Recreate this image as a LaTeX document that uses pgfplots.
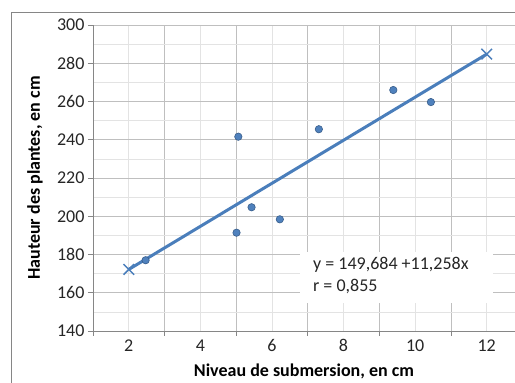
\documentclass[border=0pt]{standalone}
\usepackage{pgfplots}
\pgfplotsset{compat=1.18}
\usepackage{fontspec}
\setmainfont{Carlito}
\definecolor{excelblue}{HTML}{4F81BD}
\definecolor{exceldark}{HTML}{385D8A}
\definecolor{linecol}{HTML}{4A7EBB}
\definecolor{axgray}{HTML}{868686}
\begin{document}
\begin{tikzpicture}
\path[use as bounding box] (-93pt,-52pt) rectangle (422pt,331pt);
\draw[axgray, line width=0.8pt] (-82pt,319pt) rectangle (440pt,-70pt);
\begin{axis}[
  name=ax,
  at={(0,0)}, anchor=south west,
  scale only axis, width=422pt, height=306pt,
  xmin=1, xmax=12.79, ymin=140, ymax=300,
  axis lines*=left,
  axis line style={axgray, line width=0.8pt},
  /pgf/number format/assume math mode=true,
  xtick={1,3,...,11}, xticklabels={},
  minor xtick={2,4,...,12},
  extra x ticks={2,4,...,12},
  extra x tick labels={2,4,6,8,10,12},
  extra x tick style={grid=none, xtick style={draw=none}},
  ytick={140,160,...,300}, minor ytick={150,170,...,290},
  grid=both,
  major grid style={gray!50, line width=0.6pt},
  minor grid style={gray!22, line width=0.6pt},
  tick align=outside, major tick length=5pt, minor tick length=0pt,
  tick style={axgray, line width=0.8pt},
  ticklabel style={font=\fontsize{18}{20}\selectfont, text=black!85},
  xlabel={Niveau de submersion, en cm},
  xlabel style={font=\bfseries\fontsize{18}{20}\selectfont, at={(axis description cs:0.5,0)}, anchor=base, yshift=-46pt},
]
\addplot[only marks, mark=*, mark size=3.7pt,
  mark options={fill=excelblue, draw=exceldark, line width=0.6pt}]
  coordinates {(2.47,177.0) (5.06,241.6) (5.43,204.7) (6.22,198.4)
               (5.01,191.4) (7.31,245.5) (9.39,266.0) (10.44,259.7)};
\addplot[linecol, line width=3pt, mark=x, mark size=7.5pt,
  mark options={line width=1.5pt}]
  coordinates {(2,172.2) (12,284.78)};
\node[fill=white, anchor=north west, minimum width=193pt, minimum height=51pt, inner sep=0pt]
  at (axis cs:6.78,181.3) {};
\node[anchor=base west, inner sep=0pt, font=\fontsize{18}{20}\selectfont, text=black!85]
  at (axis cs:7.145,171.9) {y = 149,684 +11,258x};
\node[anchor=base west, inner sep=0pt, font=\fontsize{18}{20}\selectfont, text=black!85]
  at (axis cs:7.145,160.4) {r = 0,855};
\end{axis}
\node[rotate=90, anchor=base, inner sep=0pt, font=\bfseries\fontsize{18}{20}\selectfont]
  at ([xshift=-53pt]ax.west) {Hauteur des plantes, en cm};
\end{tikzpicture}
\end{document}
